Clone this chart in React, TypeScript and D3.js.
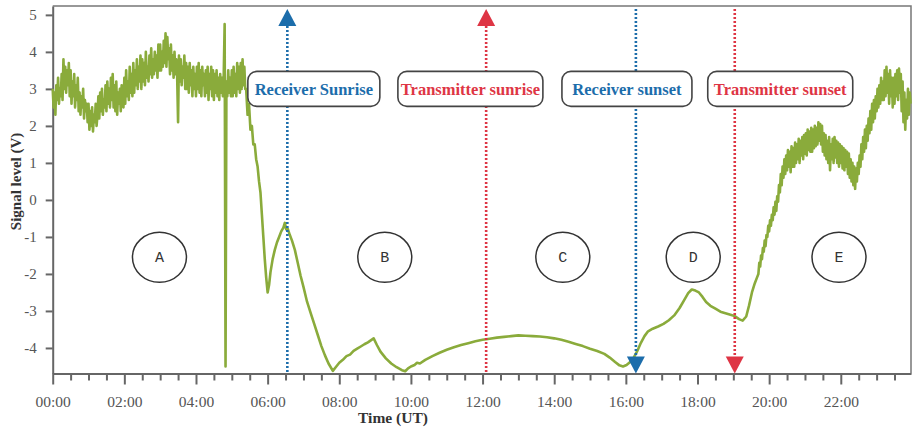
import { useEffect, useRef } from "react";
import * as d3 from "d3";

// Segment A: 90-second samples from 00:00 (night, noisy)
const nightStart = 0;
const nightStep = 0.025;
const nightVolts = [
  3.0, 2.5, 2.9, 2.3, 3.1, 2.7, 3.3, 2.6, 3.0, 2.8,
  3.4, 2.7, 3.8, 3.0, 3.6, 2.9, 3.5, 3.1, 3.7, 2.8,
  3.5, 2.6, 3.2, 2.8, 3.4, 2.5, 3.1, 2.7, 3.3, 2.4,
  2.9, 2.3, 2.8, 2.5, 3.0, 2.2, 2.7, 2.4, 2.6, 2.1,
  2.6, 1.9, 2.4, 2.0, 2.5, 1.85, 2.3, 2.1, 2.6, 2.0,
  2.3, 2.8, 2.2, 2.9, 2.4, 3.0, 2.3, 2.7, 2.5, 3.1,
  2.4, 3.2, 2.6, 3.0, 2.5, 3.3, 2.7, 3.4, 2.5, 3.1,
  2.4, 3.2, 2.3, 2.9, 2.6, 3.0, 2.4, 3.1, 2.7, 2.5,
  3.3, 2.6, 3.5, 2.8, 3.2, 2.7, 3.6, 2.9, 3.4, 2.8,
  3.7, 2.9, 3.5, 3.1, 3.8, 3.0, 3.6, 3.2, 3.9, 3.0,
  3.8, 3.2, 3.7, 3.1, 4.0, 3.3, 3.6, 3.2, 3.9, 3.4,
  4.1, 3.3, 3.8, 3.4, 4.0, 3.5, 3.9, 3.3, 4.2, 3.5,
  4.2, 3.5, 4.0, 3.6, 4.3, 3.7, 4.5, 3.6, 4.4, 3.8,
  4.1, 3.4, 4.2, 3.5, 3.9, 3.3, 4.0, 3.4, 3.8, 3.3,
  2.1, 3.9, 3.2, 3.8, 3.1, 3.6, 3.3, 3.9, 3.0, 3.7,
  3.0, 3.6, 2.9, 3.7, 3.1, 3.5, 2.8, 3.6, 3.0, 3.4,
  2.8, 3.6, 3.0, 3.7, 2.9, 3.5, 2.8, 3.6, 3.1, 3.4,
  2.8, 3.5, 2.9, 3.6, 2.7, 3.4, 3.0, 3.6, 2.8, 3.5,
  2.7, 3.4, 2.9, 3.5, 2.8, 3.3, 2.7, 3.4, 2.9, 3.3,
  2.8, 3.4, 4.75, -4.5, 3.2, 2.8, 3.5, 2.9, 3.3, 2.8,
  3.5, 2.8, 3.6, 2.9, 3.4, 2.8, 3.7, 3.0, 3.6, 2.9,
  3.7, 3.0, 3.8, 3.1, 3.6, 3.0,
];

// Sunrise to sunset (segments B, C, D), irregular samples
const dayHours = [
  5.4, 5.44, 5.48, 5.52, 5.56, 5.6, 5.64, 5.68, 5.72, 5.76,
  5.8, 5.84, 5.88, 5.92, 5.96, 6.0, 6.04, 6.08, 6.14, 6.2,
  6.26, 6.32, 6.38, 6.44, 6.48, 6.52, 6.56, 6.62, 6.68, 6.76,
  6.84, 6.92, 7.0, 7.1, 7.2, 7.3, 7.4, 7.5, 7.6, 7.7,
  7.82, 7.9, 8.0, 8.1, 8.2, 8.3, 8.4, 8.5, 8.6, 8.7,
  8.8, 8.9, 8.96, 9.05, 9.15, 9.3, 9.45, 9.6, 9.75, 9.84,
  9.92, 10.0, 10.1, 10.17, 10.25, 10.4, 10.6, 10.8, 11.0, 11.2,
  11.4, 11.6, 11.8, 12.0, 12.2, 12.4, 12.6, 12.8, 13.0, 13.2,
  13.4, 13.6, 13.8, 14.0, 14.2, 14.4, 14.6, 14.8, 15.0, 15.2,
  15.4, 15.55, 15.7, 15.82, 15.92, 16.02, 16.12, 16.22, 16.32, 16.42,
  16.52, 16.62, 16.75, 16.9, 17.05, 17.2, 17.35, 17.5, 17.62, 17.74,
  17.84, 17.94, 18.04, 18.14, 18.24, 18.36, 18.5, 18.64, 18.78, 18.92,
  19.04, 19.16, 19.26, 19.36, 19.44, 19.52, 19.6, 19.66,
];
const dayVolts = [
  3.0, 2.3, 2.6, 1.9, 2.0, 1.5, 1.5, 1.1, 0.9, 0.5,
  0.2, -0.4, -1.0, -1.6, -2.1, -2.5, -2.3, -1.95, -1.6, -1.35,
  -1.15, -1.0, -0.85, -0.75, -0.62, -0.8, -0.78, -0.95, -1.1, -1.35,
  -1.7, -2.05, -2.35, -2.75, -3.05, -3.35, -3.65, -3.95, -4.2, -4.42,
  -4.62, -4.52, -4.4, -4.32, -4.22, -4.18, -4.08, -4.02, -3.96, -3.9,
  -3.85, -3.78, -3.74, -3.92, -4.1, -4.28, -4.42, -4.52, -4.6, -4.63,
  -4.55, -4.5, -4.46, -4.4, -4.42, -4.32, -4.22, -4.13, -4.05, -3.98,
  -3.92, -3.87, -3.82, -3.78, -3.75, -3.72, -3.7, -3.68, -3.66, -3.67,
  -3.68, -3.69, -3.71, -3.74, -3.78, -3.83, -3.89, -3.95, -4.02, -4.08,
  -4.16, -4.26, -4.38, -4.47, -4.5, -4.46, -4.38, -4.26, -4.08, -3.86,
  -3.68, -3.55, -3.48, -3.42, -3.35, -3.25, -3.12, -2.92, -2.72, -2.52,
  -2.42, -2.45, -2.5, -2.62, -2.76, -2.86, -2.94, -3.02, -3.06, -3.1,
  -3.14, -3.22, -3.26, -3.15, -2.85, -2.5, -2.25, -2.1,
];

// Segment E: 90-second samples from 19:42 (evening, noisy)
const eveningStart = 19.7;
const eveningStep = 0.025;
const eveningVolts = [
  -2.0, -1.7, -1.8, -1.5, -1.6, -1.3, -1.4, -1.1, -1.25, -0.95,
  -1.0, -0.7, -0.85, -0.55, -0.7, -0.4, -0.55, -0.2, -0.4, -0.05,
  -0.3, 0.1, -0.05, 0.4, 0.2, 0.7, 0.4, 0.9, 0.6, 1.1,
  0.7, 1.2, 0.8, 1.35, 0.9, 1.3, 0.75, 1.45, 0.9, 1.4,
  0.9, 1.55, 1.0, 1.5, 1.1, 1.65, 1.0, 1.6, 1.2, 1.7,
  1.1, 1.75, 1.25, 1.8, 1.2, 1.9, 1.35, 1.85, 1.3, 1.95,
  1.3, 1.9, 1.4, 2.0, 1.45, 1.95, 1.5, 2.1, 1.6, 2.05,
  1.5, 2.0, 1.3, 1.8, 1.2, 1.75, 1.1, 1.6, 1.0, 1.7,
  0.8, 1.5, 1.1, 1.65, 1.0, 1.7, 1.15, 1.6, 1.0, 1.55,
  0.9, 1.5, 1.0, 1.45, 0.85, 1.4, 0.8, 1.35, 0.9, 1.3,
  0.7, 1.25, 0.6, 1.1, 0.5, 1.0, 0.4, 0.9, 0.3, 0.85,
  0.5, 1.0, 0.7, 1.2, 0.9, 1.5, 1.1, 1.7, 1.3, 1.9,
  1.4, 2.0, 1.6, 2.2, 1.8, 2.4, 1.9, 2.6, 2.1, 2.7,
  2.2, 2.8, 2.4, 3.0, 2.5, 3.1, 2.6, 3.3, 2.7, 3.2,
  2.7, 3.5, 2.8, 3.6, 2.9, 3.4, 2.6, 3.5, 2.8, 3.3,
  2.5, 3.3, 2.6, 3.4, 2.8, 3.5, 2.7, 3.55, 2.9, 3.4,
  2.4, 3.2, 2.1, 2.9, 1.9, 2.7, 2.2, 3.0, 2.3, 2.9,
  2.6,
];

const eventNames = ["Receiver Sunrise", "Transmitter sunrise", "Receiver sunset", "Transmitter sunset"];
const eventHours = [6.55, 12.1, 16.28, 19.04];
const eventSides = ["receiver", "transmitter", "receiver", "transmitter"];
const eventDirections = ["up", "up", "down", "down"];
const labelHours = [7.29, 11.66, 16.03, 20.31];
const labelVolt = 3.0;

const regionNames = ["A", "B", "C", "D", "E"];
const regionHours = [2.98, 9.27, 14.24, 17.88, 21.95];
const regionVolt = -1.55;

const majorHours = [0, 2, 4, 6, 8, 10, 12, 14, 16, 18, 20, 22];
const majorLabels = ["00:00", "02:00", "04:00", "06:00", "08:00", "10:00", "12:00", "14:00", "16:00", "18:00", "20:00", "22:00"];
const minorHours = [0.5, 1, 1.5, 2.5, 3, 3.5, 4.5, 5, 5.5, 6.5, 7, 7.5, 8.5, 9, 9.5, 10.5, 11, 11.5, 12.5, 13, 13.5, 14.5, 15, 15.5, 16.5, 17, 17.5, 18.5, 19, 19.5, 20.5, 21, 21.5, 22.5, 23, 23.5];
const voltTicks = [-4, -3, -2, -1, 0, 1, 2, 3, 4, 5];

const W = 915;
const H = 429;
const margin = { top: 6, right: 4, bottom: 55.5, left: 52.7 };
const labelWidths = [132, 145, 130, 145];
const colors = { receiver: "#1c6dab", transmitter: "#de3544", signal: "#8aab3b", axis: "#666" };
const serif = "Liberation Serif, Times New Roman, serif";

export default function App() {
  const svgRef = useRef<SVGSVGElement>(null);

  useEffect(() => {
    if (!svgRef.current) return;
    const svg = d3.select(svgRef.current);
    svg.selectAll("*").remove();

    const x = d3.scaleLinear().domain([0, 23.96]).range([margin.left, W - margin.right]);
    const y = d3.scaleLinear().domain([-4.69, 5.24]).range([H - margin.bottom, margin.top]);

    const points: [number, number][] = [
      ...nightVolts.map((v, i) => [nightStart + i * nightStep, v] as [number, number]),
      ...dayHours.map((h, i) => [h, dayVolts[i]] as [number, number]),
      ...eveningVolts.map((v, i) => [eveningStart + i * eveningStep, v] as [number, number]),
    ];

    svg.append("rect").attr("width", W).attr("height", H).attr("fill", "#fff");

    // frame top and right
    svg.append("path")
      .attr("d", `M${x(0)},${y(5.24)}H${x(23.96)}V${y(-4.69)}`)
      .attr("fill", "none")
      .attr("stroke", "#777")
      .attr("stroke-width", 1.5);

    // y axis
    const yAxis = svg.append("g")
      .attr("transform", `translate(${margin.left},0)`)
      .call(d3.axisLeft(y).tickValues(voltTicks).tickSize(7).tickSizeOuter(0).tickPadding(9).tickFormat((d) => `${d}`));
    yAxis.select(".domain").attr("stroke", colors.axis).attr("stroke-width", 2);
    yAxis.selectAll(".tick line").attr("stroke", colors.axis).attr("stroke-width", 2);
    yAxis.selectAll("text")
      .attr("fill", "#555")
      .attr("font-family", serif)
      .attr("font-size", 15);

    // x axis: minor then major ticks
    const xBase = H - margin.bottom;
    const minorAxis = svg.append("g")
      .attr("transform", `translate(0,${xBase})`)
      .call(d3.axisBottom(x).tickValues(minorHours).tickSize(7).tickSizeOuter(0).tickFormat(() => ""));
    minorAxis.select(".domain").remove();
    minorAxis.selectAll(".tick line").attr("stroke", colors.axis).attr("stroke-width", 2);

    const majorAxis = svg.append("g")
      .attr("transform", `translate(0,${xBase})`)
      .call(d3.axisBottom(x).tickValues(majorHours).tickSize(11).tickSizeOuter(0).tickFormat((_, i) => majorLabels[i]));
    majorAxis.select(".domain").attr("stroke", colors.axis).attr("stroke-width", 2);
    majorAxis.selectAll(".tick line").attr("stroke", colors.axis).attr("stroke-width", 2);
    majorAxis.selectAll("text")
      .attr("y", 33)
      .attr("dy", 0)
      .attr("fill", "#555")
      .attr("font-family", serif)
      .attr("font-size", 15.5);

    // axis titles
    svg.append("text")
      .attr("x", 393)
      .attr("y", 423)
      .attr("text-anchor", "middle")
      .attr("fill", "#333")
      .attr("font-family", serif)
      .attr("font-size", 15.5)
      .attr("font-weight", "bold")
      .text("Time (UT)");

    svg.append("text")
      .attr("transform", `translate(21,${y(0.5)}) rotate(-90)`)
      .attr("text-anchor", "middle")
      .attr("fill", "#333")
      .attr("font-family", serif)
      .attr("font-size", 15)
      .attr("font-weight", "bold")
      .text("Signal level (V)");

    // region ellipses
    regionNames.forEach((name, i) => {
      const cx = x(regionHours[i]);
      const cy = y(regionVolt);
      svg.append("ellipse")
        .attr("cx", cx)
        .attr("cy", cy)
        .attr("rx", 27)
        .attr("ry", 25)
        .attr("fill", "#fff")
        .attr("stroke", "#333")
        .attr("stroke-width", 1.5);
      svg.append("text")
        .attr("x", cx)
        .attr("y", cy + 5)
        .attr("text-anchor", "middle")
        .attr("fill", "#333")
        .attr("font-family", "Liberation Mono, Courier New, monospace")
        .attr("font-size", 15)
        .text(name);
    });

    // signal
    const line = d3.line<[number, number]>()
      .x((d) => x(d[0]))
      .y((d) => y(d[1]));
    svg.append("path")
      .datum(points)
      .attr("d", line)
      .attr("fill", "none")
      .attr("stroke", colors.signal)
      .attr("stroke-width", 2.6)
      .attr("stroke-linejoin", "round");

    // sunrise / sunset markers
    eventHours.forEach((h, i) => {
      const c = colors[eventSides[i] as "receiver" | "transmitter"];
      const cx = x(h);
      const up = eventDirections[i] === "up";
      const top = y(5.24);
      const bottom = y(-4.69);
      svg.append("line")
        .attr("x1", cx)
        .attr("x2", cx)
        .attr("y1", up ? top + 20 : top + 3)
        .attr("y2", up ? bottom : bottom - 16)
        .attr("stroke", c)
        .attr("stroke-width", 2.6)
        .attr("stroke-dasharray", "2,2");
      const tri = up
        ? `M${cx},${top + 3}L${cx + 9},${top + 20}L${cx - 9},${top + 20}Z`
        : `M${cx},${bottom}L${cx + 9},${bottom - 17}L${cx - 9},${bottom - 17}Z`;
      svg.append("path").attr("d", tri).attr("fill", c);
    });

    // labels
    eventNames.forEach((name, i) => {
      const c = colors[eventSides[i] as "receiver" | "transmitter"];
      const cx = x(labelHours[i]);
      const cy = y(labelVolt);
      const w = labelWidths[i];
      svg.append("rect")
        .attr("x", cx - w / 2)
        .attr("y", cy - 17.5)
        .attr("width", w)
        .attr("height", 35)
        .attr("rx", 9)
        .attr("fill", "#fff")
        .attr("stroke", "#444")
        .attr("stroke-width", 1.6);
      svg.append("text")
        .attr("x", cx)
        .attr("y", cy + 6)
        .attr("text-anchor", "middle")
        .attr("fill", c)
        .attr("font-family", serif)
        .attr("font-size", 16.5)
        .attr("font-weight", "bold")
        .text(name);
    });
  }, []);

  return (
    <svg
      ref={svgRef}
      width={W}
      height={H}
      style={{ position: "absolute", left: 0, top: 0, display: "block" }}
    />
  );
}
